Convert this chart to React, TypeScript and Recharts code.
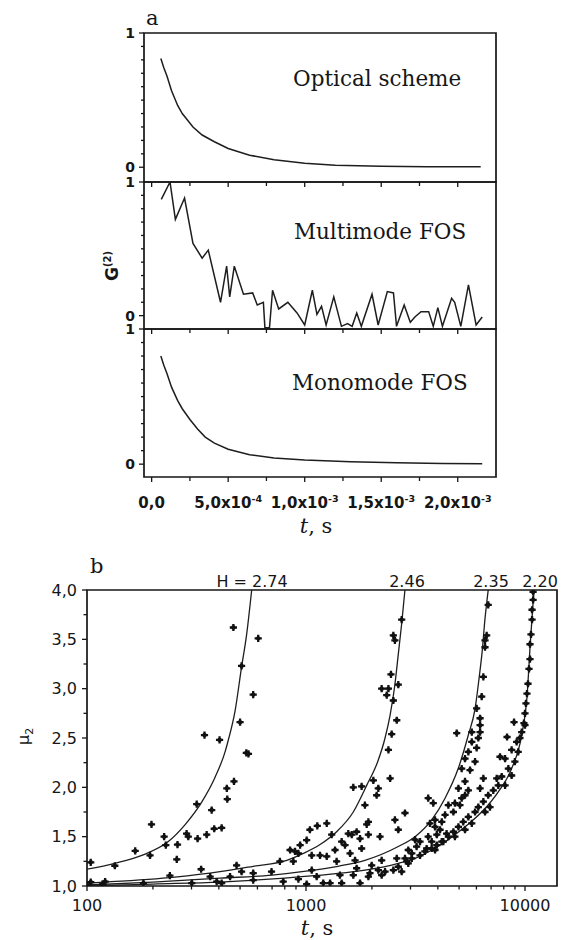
import React from 'react';
import { LineChart, ComposedChart, Line, Scatter, XAxis, YAxis, ReferenceArea } from 'recharts';

const INK = '#161616';

// ---------- panel a : G(2) vs t (s) ----------
const aXTicks = [0, 0.25e-3, 0.5e-3, 0.75e-3, 1.0e-3, 1.25e-3, 1.5e-3, 1.75e-3, 2.0e-3];
const aXLabelMain = ['0,0', '5,0x10', '1,0x10', '1,5x10', '2,0x10'];
const aXLabelExp = ['', '-4', '-3', '-3', '-3'];
const aYTicks = [0, 0.1, 0.2, 0.3, 0.4, 0.5, 0.6, 0.7, 0.8, 0.9, 1];

const opticalT = [0.06e-3, 0.08e-3, 0.1e-3, 0.13e-3, 0.17e-3, 0.2e-3, 0.27e-3, 0.33e-3, 0.41e-3, 0.5e-3, 0.64e-3, 0.8e-3, 1.0e-3, 1.2e-3, 1.5e-3, 1.8e-3, 2.15e-3];
const opticalG = [0.81, 0.74, 0.68, 0.57, 0.46, 0.40, 0.30, 0.24, 0.19, 0.14, 0.09, 0.055, 0.03, 0.015, 0.008, 0.004, 0.003];

const multiT = [0.063e-3, 0.12e-3, 0.155e-3, 0.215e-3, 0.27e-3, 0.33e-3, 0.37e-3, 0.45e-3, 0.49e-3, 0.51e-3,
  0.54e-3, 0.60e-3, 0.66e-3, 0.69e-3, 0.73e-3, 0.74e-3, 0.77e-3, 0.79e-3, 0.83e-3, 0.89e-3,
  0.95e-3, 1.0e-3, 1.05e-3, 1.08e-3, 1.11e-3, 1.14e-3, 1.19e-3, 1.24e-3, 1.28e-3, 1.31e-3,
  1.34e-3, 1.37e-3, 1.44e-3, 1.48e-3, 1.54e-3, 1.58e-3, 1.60e-3, 1.65e-3, 1.69e-3, 1.72e-3,
  1.76e-3, 1.81e-3, 1.84e-3, 1.87e-3, 1.90e-3, 1.96e-3, 1.98e-3, 2.02e-3, 2.07e-3, 2.12e-3, 2.16e-3];
const multiG = [0.87, 1.0, 0.72, 0.88, 0.54, 0.43, 0.49, 0.10, 0.37, 0.14,
  0.37, 0.16, 0.17, 0.08, 0.10, -0.09, -0.09, 0.19, 0.05, 0.10,
  0.02, -0.07, 0.19, 0.01, 0.07, -0.07, 0.14, -0.08, -0.06, -0.08,
  0.02, -0.08, 0.16, -0.07, 0.18, 0.17, -0.08, 0.08, -0.05, -0.01,
  0.03, 0.03, -0.08, 0.06, -0.08, 0.13, 0.10, -0.08, 0.23, -0.07, -0.01];

const monoT = [0.06e-3, 0.08e-3, 0.1e-3, 0.13e-3, 0.17e-3, 0.2e-3, 0.25e-3, 0.3e-3, 0.35e-3, 0.41e-3, 0.5e-3, 0.64e-3, 0.8e-3, 1.0e-3, 1.3e-3, 1.6e-3, 1.9e-3, 2.16e-3];
const monoG = [0.80, 0.73, 0.67, 0.57, 0.47, 0.41, 0.33, 0.26, 0.20, 0.155, 0.11, 0.07, 0.045, 0.03, 0.017, 0.01, 0.005, 0.003];

// ---------- panel b : mu2 vs t (s), log axis ----------
const bXTicks = [100, 200, 300, 400, 500, 600, 700, 800, 900, 1000, 2000, 3000, 4000, 5000, 6000, 7000, 8000, 9000, 10000];
const bYTicks = [1, 1.25, 1.5, 1.75, 2, 2.25, 2.5, 2.75, 3, 3.25, 3.5, 3.75, 4];
const hLabels = ['H = 2.74', '2.46', '2.35', '2.20'];

const c274T = [100, 134, 178, 235, 280, 334, 384, 427, 442, 474, 508, 535, 565];
const c274M = [1.17, 1.23, 1.31, 1.45, 1.62, 1.85, 2.10, 2.36, 2.48, 2.77, 3.22, 3.54, 4.0];
const c246T = [100, 121, 252, 405, 574, 817, 973, 1159, 1380, 1644, 1893, 2125, 2296, 2420, 2546, 2636, 2735, 2830];
const c246M = [1.03, 1.04, 1.09, 1.145, 1.20, 1.26, 1.33, 1.42, 1.55, 1.75, 2.02, 2.26, 2.50, 2.73, 3.04, 3.34, 3.66, 4.0];
const c235T = [100, 200, 405, 700, 1000, 1400, 1858, 2639, 3148, 3750, 4315, 4955, 5511, 5919, 6166, 6370, 6568, 6792];
const c235M = [1.01, 1.04, 1.08, 1.11, 1.15, 1.20, 1.26, 1.40, 1.50, 1.67, 1.89, 2.19, 2.53, 2.80, 3.10, 3.37, 3.71, 4.0];
const c220T = [100, 200, 405, 800, 1300, 1858, 2639, 3148, 3750, 4467, 5320, 6340, 7550, 8690, 9660, 10200, 10600, 10990];
const c220M = [1.0, 1.02, 1.04, 1.08, 1.12, 1.16, 1.23, 1.28, 1.365, 1.47, 1.60, 1.75, 1.955, 2.19, 2.53, 2.9, 3.5, 4.0];

const bT = [100, 118, 466, 605, 508, 574, 500, 534, 469, 344,
  403, 435, 317, 371, 197, 225, 285, 290, 320, 352,
  381, 412, 166, 194, 229, 259, 257, 104, 134, 332,
  365, 239, 104, 121, 181, 301, 391, 412, 546, 437,
  1644, 1795, 1858, 1042, 1126, 1244, 940, 1007, 846, 891,
  923, 1062, 1159, 1244, 1310, 1357, 1455, 1507, 1560, 1618,
  1703, 1765, 1795, 1589, 1675, 1893, 1927, 760, 875, 1380,
  482, 508, 574, 696, 1062, 1703, 450, 574, 787, 923,
  1119, 1429, 1644, 1199, 1288, 1007, 1455, 1765, 2735, 2505,
  2547, 2443, 2216, 2379, 2337, 2639, 2505, 2597, 2462, 6792,
  6683, 6568, 6568, 6454, 6343, 6015, 6237, 6237, 6237, 5715,
  4878, 10000, 9660, 2379, 2422, 2139, 2102, 2030, 2831, 2547,
  2639, 1927, 2178, 3614, 3811, 5140, 5322, 5511, 5715, 6015,
  6120, 5915, 5610, 5322, 4966, 5140, 4786, 4467, 4710, 4315,
  4169, 3883, 3681, 3883, 4093, 4385, 3956, 3614, 3316, 3750,
  4169, 3199, 3556, 3883, 3042, 2831, 2931, 2639, 2505, 2139,
  2597, 2216, 1995, 1959, 2296, 2735, 2931, 3148, 8110, 8690,
  9160, 8395, 7830, 7550, 7165, 6792, 6454, 6120, 5915, 5511,
  5224, 4966, 4710, 4467, 4236, 3956, 3750, 3491, 3316, 3042,
  2884, 8690, 8990, 9310, 9480, 7430, 8110, 6920, 6568, 5715,
  5322, 4786, 5045, 5322, 5511, 6237, 6454, 1927, 2216, 10890,
  10890, 10770, 10770, 10650, 10540, 10540, 10430, 10320, 10210, 10100,
  10000, 9890, 8912, 8280, 7690];
const bMu = [1.01, 1.02, 3.62, 3.51, 3.23, 2.94, 2.66, 2.35, 2.06, 2.53,
  2.48, 1.99, 1.83, 1.77, 1.625, 1.50, 1.53, 1.50, 1.48, 1.52,
  1.58, 1.59, 1.355, 1.31, 1.415, 1.42, 1.27, 1.24, 1.205, 1.17,
  1.095, 1.105, 1.04, 1.045, 1.03, 1.03, 1.045, 1.03, 2.34, 1.88,
  2.0, 2.01, 1.82, 1.57, 1.61, 1.635, 1.415, 1.465, 1.365, 1.35,
  1.33, 1.31, 1.31, 1.30, 1.52, 1.365, 1.45, 1.415, 1.53, 1.52,
  1.55, 1.48, 1.38, 1.33, 1.26, 1.625, 1.52, 1.25, 1.25, 1.25,
  1.21, 1.145, 1.13, 1.145, 1.16, 1.18, 1.095, 1.06, 1.045, 1.07,
  1.095, 1.11, 1.11, 1.03, 1.03, 1.02, 1.03, 1.03, 3.70, 3.54,
  3.49, 3.145, 3.0, 3.0, 2.935, 3.04, 2.88, 2.68, 2.54, 3.85,
  3.54, 3.49, 3.42, 3.12, 2.92, 2.80, 2.70, 2.63, 2.56, 2.56,
  2.55, 2.63, 2.56, 2.38, 2.09, 1.99, 1.92, 2.07, 1.74, 1.67,
  1.57, 1.65, 1.50, 1.89, 1.84, 2.19, 2.29, 2.36, 2.46, 2.40,
  2.50, 2.26, 2.175, 2.06, 1.99, 1.89, 1.84, 1.82, 1.75, 1.72,
  1.65, 1.67, 1.635, 1.60, 1.57, 1.53, 1.52, 1.50, 1.45, 1.45,
  1.45, 1.40, 1.38, 1.365, 1.33, 1.28, 1.23, 1.195, 1.16, 1.16,
  1.28, 1.26, 1.21, 1.13, 1.145, 1.145, 1.365, 1.47, 2.29, 2.38,
  2.46, 2.19, 2.11, 2.02, 1.97, 1.92, 1.855, 1.80, 1.75, 1.70,
  1.65, 1.60, 1.55, 1.50, 1.45, 1.415, 1.38, 1.35, 1.31, 1.28,
  1.25, 2.12, 2.26, 2.36, 2.50, 2.09, 2.02, 1.80, 1.75, 1.635,
  1.57, 1.50, 1.82, 1.92, 1.97, 1.99, 2.09, 1.095, 1.11, 3.98,
  3.90, 3.80, 3.70, 3.55, 3.45, 3.30, 3.20, 3.05, 2.95, 2.85,
  2.75, 2.65, 2.66, 2.51, 2.31];

const rowsOf = (ts: number[], vs: number[], key: string) => ts.map((t, i) => ({ t, [key]: vs[i] }));

const opticalRows = rowsOf(opticalT, opticalG, 'g');
const multiRows = rowsOf(multiT, multiG, 'g');
const monoRows = rowsOf(monoT, monoG, 'g');
const curves = [
  rowsOf(c274T, c274M, 'mu'),
  rowsOf(c246T, c246M, 'mu'),
  rowsOf(c235T, c235M, 'mu'),
  rowsOf(c220T, c220M, 'mu'),
];
const points = rowsOf(bT, bMu, 'mu');

// ---------- tick renderers ----------
const makeAXTick = (withLabels: boolean) => (props: any) => {
  const { x, y, payload } = props;
  const idx = Math.round(payload.value / 0.25e-3);
  const major = idx % 2 === 0;
  const li = idx / 2;
  return (
    <g>
      <line x1={x} y1={y} x2={x} y2={y + (major ? 5 : 4)} stroke={INK} strokeWidth={1.3} />
      {withLabels && major ? (
        <text x={x} y={y + 31} textAnchor="middle" fontFamily="DejaVu Sans" fontWeight="bold" fontSize={15} fill={INK}>
          {aXLabelMain[li]}
          {aXLabelExp[li] ? <tspan dy={-6} fontSize={9.5}>{aXLabelExp[li]}</tspan> : null}
        </text>
      ) : null}
    </g>
  );
};

const aYTick = (props: any) => {
  const { x, y, payload } = props;
  const v = payload.value;
  const major = Math.abs(v) < 1e-6 || Math.abs(v - 1) < 1e-6;
  return (
    <g>
      <line x1={x} y1={y} x2={x - (major ? 5 : 3)} y2={y} stroke={INK} strokeWidth={1.3} />
      {major ? (
        <text x={x - 9} y={y} dy="0.36em" textAnchor="end" fontFamily="DejaVu Sans" fontWeight="bold" fontSize={14} fill={INK}>
          {v > 0.5 ? '1' : '0'}
        </text>
      ) : null}
    </g>
  );
};

const bXTick = (props: any) => {
  const { x, y, payload } = props;
  const v = payload.value;
  const major = v === 100 || v === 1000 || v === 10000;
  return (
    <g>
      <line x1={x} y1={y} x2={x} y2={y + (major ? 5 : 3.5)} stroke={INK} strokeWidth={1.3} />
      {major ? (
        <text x={x} y={y + 25} textAnchor="middle" fontFamily="DejaVu Sans" fontSize={16} fill={INK}>{String(v)}</text>
      ) : null}
    </g>
  );
};

const bYTick = (props: any) => {
  const { x, y, payload } = props;
  const v = payload.value;
  const major = Math.abs(v * 2 - Math.round(v * 2)) < 1e-6;
  return (
    <g>
      <line x1={x} y1={y} x2={x - (major ? 5 : 3.5)} y2={y} stroke={INK} strokeWidth={1.3} />
      {major ? (
        <text x={x - 10} y={y} dy="0.36em" textAnchor="end" fontFamily="DejaVu Sans" fontSize={16} fill={INK}>
          {v.toFixed(1).replace('.', ',')}
        </text>
      ) : null}
    </g>
  );
};

const StarMark = (props: any) => {
  const { cx, cy } = props;
  if (cx == null || cy == null) return null;
  return (
    <g>
      <path d={`M${cx - 3.6},${cy}H${cx + 3.6}M${cx},${cy - 3.6}V${cy + 3.6}`} stroke="#111" strokeWidth={2.3} />
      <circle cx={cx} cy={cy} r={2.2} fill="#111" />
    </g>
  );
};

// ---------- panel a sub-chart ----------
const X0 = -0.05e-3;
const X1 = 2.25e-3;

function PanelA(p: { top: number; height: number; mTop: number; xH: number; rows: any[]; yMin: number; labels: boolean }) {
  return (
    <div style={{ position: 'absolute', left: 0, top: p.top, width: 561, height: p.height }}>
      <LineChart width={561} height={p.height} data={p.rows} margin={{ top: p.mTop, right: 65, bottom: 0, left: 104 }}>
        <XAxis dataKey="t" type="number" domain={[X0, X1]} ticks={aXTicks} interval={0} allowDataOverflow
          height={p.xH} axisLine={false} tickLine={false} tickSize={0} tickMargin={0} tick={makeAXTick(p.labels)} />
        <YAxis type="number" domain={[p.yMin, 1]} ticks={aYTicks} interval={0} allowDataOverflow width={40}
          axisLine={false} tickLine={false} tickSize={0} tickMargin={0} tick={aYTick} />
        <ReferenceArea x1={X0} x2={X1} y1={p.yMin} y2={1} fill="none" stroke={INK} strokeWidth={1.7} ifOverflow="visible" />
        <Line dataKey="g" type="linear" stroke="#1e1e1e" strokeWidth={1.5} dot={false} isAnimationActive={false} />
      </LineChart>
    </div>
  );
}

export default function App() {
  const serif = '"DejaVu Serif", serif';
  return (
    <div style={{ position: 'absolute', left: 0, top: 0, width: 561, height: 940, background: '#fff', overflow: 'hidden' }}>
      <PanelA top={0} height={192} mTop={33} xH={10} rows={opticalRows} yMin={-0.11} labels={false} />
      <PanelA top={172} height={167} mTop={10} xH={10} rows={multiRows} yMin={-0.1} labels={false} />
      <PanelA top={319} height={218} mTop={10} xH={60} rows={monoRows} yMin={-0.095} labels={true} />

      <div style={{ position: 'absolute', left: 0, top: 540, width: 561, height: 400 }}>
        <ComposedChart width={561} height={400} margin={{ top: 50, right: 4, bottom: 0, left: 27 }}>
          <XAxis dataKey="t" type="number" scale="log" domain={[100, 14000]} ticks={bXTicks} interval={0} allowDataOverflow
            height={54} axisLine={false} tickLine={false} tickSize={0} tickMargin={0} tick={bXTick} />
          <YAxis dataKey="mu" type="number" domain={[1, 4]} ticks={bYTicks} interval={0} allowDataOverflow width={60}
            axisLine={false} tickLine={false} tickSize={0} tickMargin={0} tick={bYTick} />
          <ReferenceArea x1={100} x2={14000} y1={1} y2={4} fill="none" stroke={INK} strokeWidth={1.7} ifOverflow="visible" />
          {curves.map((rows, i) => (
            <Line key={i} data={rows} dataKey="mu" type="monotone" stroke="#1e1e1e" strokeWidth={1.3} dot={false} isAnimationActive={false} />
          ))}
          <Scatter data={points} dataKey="mu" shape={StarMark} isAnimationActive={false} />
        </ComposedChart>
      </div>

      <svg width={561} height={940} style={{ position: 'absolute', left: 0, top: 0, pointerEvents: 'none' }}>
        <text x={146} y={25} fontFamily={serif} fontSize={21} fill={INK}>a</text>
        <text x={293} y={86} fontFamily={serif} fontSize={21.5} fill={INK}>Optical scheme</text>
        <text x={294} y={239} fontFamily={serif} fontSize={21.5} fill={INK}>Multimode FOS</text>
        <text x={292} y={390} fontFamily={serif} fontSize={21.5} fill={INK}>Monomode FOS</text>
        <text x={316} y={533} textAnchor="middle" fontFamily={serif} fontSize={21} fill={INK}>
          <tspan fontStyle="italic">t</tspan>, s
        </text>
        <text transform="translate(118,281) rotate(-90)" fontFamily="DejaVu Sans" fontWeight="bold" fontSize={17} fill={INK}>
          G<tspan dy={-7} fontSize={10}>(2)</tspan>
        </text>

        <text x={90} y={573} fontFamily={serif} fontSize={21} fill={INK}>b</text>
        <text x={252} y={587} textAnchor="middle" fontFamily="DejaVu Sans" fontSize={16} fill={INK}>{hLabels[0]}</text>
        <text x={407} y={587} textAnchor="middle" fontFamily="DejaVu Sans" fontSize={16} fill={INK}>{hLabels[1]}</text>
        <text x={491} y={587} textAnchor="middle" fontFamily="DejaVu Sans" fontSize={16} fill={INK}>{hLabels[2]}</text>
        <text x={540} y={587} textAnchor="middle" fontFamily="DejaVu Sans" fontSize={16} fill={INK}>{hLabels[3]}</text>
        <text transform="translate(29,745) rotate(-90)" fontFamily="DejaVu Sans" fontSize={16} fill={INK}>
          μ<tspan dy={4} fontSize={11}>2</tspan>
        </text>
        <text x={317} y={935} textAnchor="middle" fontFamily={serif} fontSize={21} fill={INK}>
          <tspan fontStyle="italic">t</tspan>, s
        </text>
      </svg>
    </div>
  );
}
